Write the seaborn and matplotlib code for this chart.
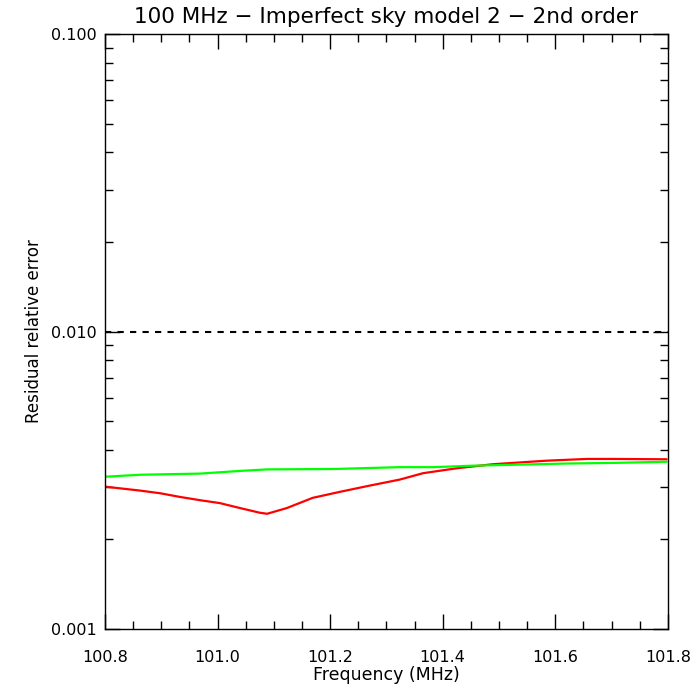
import numpy as np
import pandas as pd
import matplotlib
matplotlib.use('Agg')
import matplotlib.pyplot as plt
import matplotlib.ticker as mticker
import seaborn as sns

# values
freq_red = [100.800, 100.862, 100.898, 100.933, 100.969, 101.004, 101.040, 101.075,
            101.088, 101.123, 101.169, 101.217, 101.265, 101.324, 101.365, 101.425,
            101.489, 101.537, 101.585, 101.656, 101.702, 101.798]
err_red = [0.00301, 0.00292, 0.00286, 0.00278, 0.00271, 0.00265, 0.00255, 0.00246,
           0.00244, 0.00255, 0.00276, 0.00289, 0.00302, 0.00318, 0.00334, 0.00347,
           0.00358, 0.00363, 0.00368, 0.00373, 0.00373, 0.00372]

freq_green = [100.800, 100.862, 100.969, 101.040, 101.088, 101.205, 101.324, 101.383,
              101.454, 101.537, 101.620, 101.714, 101.798]
err_green = [0.00325, 0.00330, 0.00333, 0.00340, 0.00344, 0.00345, 0.00350, 0.00350,
             0.00354, 0.00357, 0.00360, 0.00362, 0.00365]

threshold = 0.01
title = '100 MHz \u2212 Imperfect sky model 2 \u2212 2nd order'

sns.set_style('ticks')
plt.rcParams['font.family'] = ['DejaVu Sans']
plt.rcParams['text.color'] = 'black'
plt.rcParams['axes.labelcolor'] = 'black'
plt.rcParams['xtick.color'] = 'black'
plt.rcParams['ytick.color'] = 'black'

fig = plt.figure(figsize=(7, 7), dpi=100)
ax = fig.add_axes([0.15, 0.1014, 0.804, 0.85])

df_red = pd.DataFrame({'freq': freq_red, 'err': err_red})
df_green = pd.DataFrame({'freq': freq_green, 'err': err_green})

sns.lineplot(data=df_red, x='freq', y='err', color='#ff0000', lw=1.6, ax=ax)
sns.lineplot(data=df_green, x='freq', y='err', color='#00ff00', lw=1.6, ax=ax)
ax.axhline(threshold, color='black', lw=1.5, ls=(0, (3, 3)))

ax.set_yscale('log')
ax.set_xlim(100.8, 101.8)
ax.set_ylim(0.001, 0.1)

ax.xaxis.set_major_locator(mticker.MultipleLocator(0.2))
ax.xaxis.set_minor_locator(mticker.MultipleLocator(0.05))
ax.xaxis.set_major_formatter(mticker.FormatStrFormatter('%.1f'))
ax.yaxis.set_major_locator(mticker.FixedLocator([0.001, 0.01, 0.1]))
ax.yaxis.set_minor_locator(mticker.LogLocator(base=10, subs=np.arange(2, 10)))
ax.yaxis.set_major_formatter(mticker.FormatStrFormatter('%.3f'))
ax.yaxis.set_minor_formatter(mticker.NullFormatter())

ax.tick_params(which='both', direction='in', top=True, right=True,
               color='black', labelcolor='black', width=1, labelsize=11.5)
ax.tick_params(which='major', length=11)
ax.tick_params(axis='x', which='major', pad=15)
ax.tick_params(axis='y', which='major', pad=6)
ax.tick_params(which='minor', length=5.5)

for s in ax.spines.values():
    s.set_color('black')
    s.set_linewidth(1)

ax.set_xlabel('Frequency (MHz)', fontsize=12.5, labelpad=1)
ax.set_ylabel('Residual relative error', fontsize=12, labelpad=6)
ax.set_title(title, fontsize=15.5, pad=8)

fig.savefig('out.png', dpi=100, facecolor='white')
